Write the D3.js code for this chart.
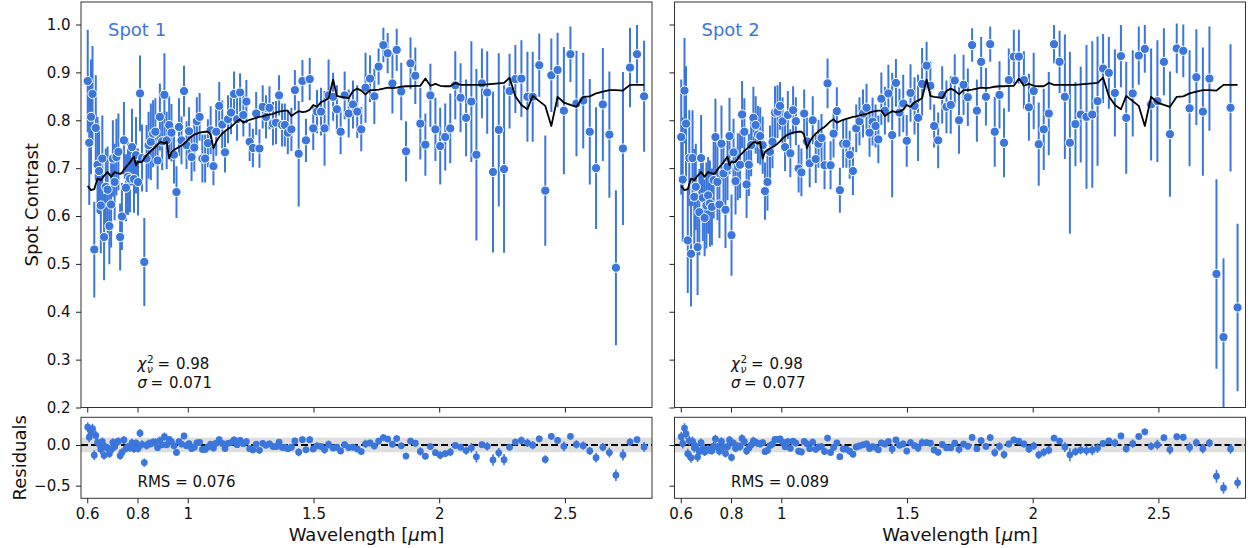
<!DOCTYPE html>
<html>
<head>
<meta charset="utf-8">
<script src="https://cdn.jsdelivr.net/npm/d3@7"></script>
<style>
  body { margin: 0; background: #fff; }
  svg text { font-family: "DejaVu Sans", sans-serif; fill: #111; }
</style>
</head>
<body>
<div id="chart"></div>
<script>
// Wavelength grid shared by both spots (micron)
const wavelength = [
  0.602,0.608,0.615,0.621,0.628,0.634,0.641,0.647,0.654,0.660,
  0.667,0.674,0.681,0.688,0.695,0.702,0.709,0.716,0.724,0.731,
  0.738,0.746,0.754,0.762,0.770,0.778,0.786,0.794,0.802,0.810,
  0.818,0.827,0.836,0.844,0.853,0.862,0.871,0.880,0.889,0.898,
  0.907,0.916,0.926,0.935,0.945,0.955,0.965,0.975,0.985,0.995,
  1.005,1.015,1.026,1.036,1.047,1.058,1.069,1.080,1.091,1.102,
  1.113,1.125,1.137,1.148,1.160,1.172,1.184,1.196,1.208,1.221,
  1.233,1.246,1.259,1.272,1.285,1.298,1.311,1.325,
  1.339,1.351,1.363,1.375,1.386,1.398,1.412,1.426,1.441,1.456,
  1.470,1.485,1.499,1.514,1.530,1.544,1.560,1.578,1.593,1.608,
  1.624,1.640,1.657,1.674,1.690,1.707,1.725,1.742,1.759,1.778,
  1.795,1.814,1.831,1.849,1.868,1.886,1.905,1.925,1.945,1.965,
  1.985,2.004,2.024,2.044,2.064,2.085,
  2.107,2.128,2.148,2.170,2.191,2.214,2.237,2.258,2.280,2.303,
  2.327,2.351,2.372,2.398,2.422,2.446,2.471,2.496,2.522,2.546,
  2.573,2.599,2.624,2.651,2.677,2.703,2.731,2.759,2.787,2.815
];

// Spot 1 contrast and 1-sigma errors
const contrast1 = [
  0.882,0.753,0.807,0.855,0.530,0.784,0.707,0.694,0.622,0.720,
  0.556,0.661,0.655,0.579,0.624,0.720,0.671,0.723,0.734,0.556,
  0.599,0.758,0.659,0.682,0.678,0.744,0.677,0.727,0.671,0.856,
  0.721,0.504,0.720,0.748,0.755,0.772,0.776,0.716,0.807,0.756,
  0.853,0.758,0.790,0.774,0.728,0.650,0.786,0.758,0.861,0.748,
  0.777,0.723,0.743,0.798,0.807,0.720,0.720,0.752,0.779,0.704,
  0.776,0.830,0.791,0.733,0.802,0.816,0.855,0.802,0.858,0.811,
  0.839,0.755,0.742,0.814,0.741,0.828,0.807,0.826,
  0.793,0.795,0.852,0.790,0.790,0.774,0.781,0.863,0.730,0.882,
  0.758,0.886,0.783,0.818,0.818,0.783,0.852,0.849,0.823,0.776,
  0.852,0.814,0.833,0.818,0.781,0.868,0.887,0.850,0.912,0.957,
  0.940,0.877,0.947,0.860,0.735,0.919,0.893,0.793,0.749,0.852,
  0.781,0.746,0.765,0.783,0.873,0.847,
  0.805,0.839,0.728,0.877,0.858,0.692,0.780,0.698,0.861,0.886,
  0.887,0.849,0.849,0.915,0.653,0.894,0.905,0.820,0.938,0.835,
  0.841,0.776,0.700,0.833,0.770,0.492,0.741,0.910,0.938,0.850
];
const err1 = [
  0.107,0.13,0.12,0.10,0.10,0.11,0.10,0.09,0.10,0.09,
  0.09,0.08,0.09,0.08,0.09,0.08,0.08,0.08,0.08,0.07,
  0.07,0.08,0.07,0.08,0.07,0.08,0.07,0.08,0.07,0.079,
  0.07,0.092,0.07,0.07,0.08,0.07,0.07,0.06,0.07,0.06,
  0.087,0.06,0.06,0.06,0.06,0.054,0.06,0.05,0.053,0.05,
  0.05,0.05,0.05,0.05,0.05,0.05,0.05,0.05,0.05,0.04,
  0.05,0.05,0.05,0.042,0.05,0.045,0.047,0.045,0.04,0.045,
  0.045,0.04,0.04,0.045,0.04,0.045,0.045,0.045,
  0.045,0.045,0.042,0.045,0.045,0.045,0.045,0.042,0.11,0.044,
  0.045,0.044,0.045,0.045,0.05,0.078,0.075,0.05,0.05,0.047,
  0.05,0.05,0.05,0.055,0.046,0.073,0.049,0.058,0.038,0.036,
  0.042,0.063,0.044,0.06,0.063,0.054,0.059,0.075,0.065,0.066,
  0.066,0.08,0.07,0.073,0.071,0.072,
  0.08,0.126,0.179,0.073,0.086,0.168,0.16,0.175,0.078,0.071,
  0.08,0.094,0.094,0.066,0.115,0.077,0.078,0.133,0.058,0.11,
  0.10,0.11,0.127,0.118,0.132,0.162,0.16,0.083,0.061,0.116
];

// Spot 2 contrast and 1-sigma errors
const contrast2 = [
  0.765,0.676,0.862,0.793,0.549,0.721,0.521,0.721,0.640,0.661,
  0.535,0.608,0.721,0.638,0.596,0.622,0.643,0.626,0.619,0.675,
  0.765,0.671,0.624,0.751,0.689,0.613,0.703,0.767,0.560,0.733,
  0.673,0.703,0.707,0.812,0.776,0.666,0.707,0.748,0.805,0.790,
  0.770,0.767,0.748,0.652,0.671,0.734,0.755,0.816,0.818,0.830,
  0.798,0.744,0.811,0.731,0.821,0.798,0.699,0.691,0.814,0.756,
  0.710,0.800,0.719,0.751,0.763,0.706,0.877,0.706,0.772,0.819,
  0.654,0.751,0.751,0.728,0.694,0.783,0.798,0.814,
  0.826,0.774,0.797,0.788,0.760,0.845,0.820,0.856,0.769,0.878,
  0.816,0.835,0.757,0.857,0.830,0.805,0.876,0.914,0.872,0.788,
  0.758,0.853,0.828,0.832,0.883,0.800,0.874,0.848,0.957,0.820,
  0.922,0.849,0.959,0.776,0.853,0.753,0.884,0.933,0.933,0.884,
  0.827,0.861,0.750,0.781,0.814,0.959,
  0.922,0.849,0.753,0.792,0.812,0.807,0.812,0.840,0.908,0.899,
  0.857,0.934,0.805,0.856,0.935,0.949,0.833,0.840,0.922,0.771,
  0.950,0.945,0.825,0.890,0.818,0.887,0.479,0.347,0.826,0.409
];
const err2 = [
  0.12,0.13,0.11,0.12,0.11,0.10,0.11,0.10,0.10,0.09,
  0.10,0.09,0.09,0.09,0.08,0.09,0.08,0.09,0.08,0.08,
  0.08,0.08,0.07,0.08,0.07,0.08,0.07,0.08,0.085,0.07,
  0.07,0.07,0.07,0.07,0.07,0.07,0.065,0.065,0.065,0.06,
  0.06,0.06,0.06,0.06,0.06,0.055,0.055,0.055,0.055,0.05,
  0.05,0.05,0.05,0.05,0.05,0.05,0.05,0.05,0.05,0.05,
  0.05,0.05,0.05,0.05,0.05,0.05,0.052,0.05,0.05,0.05,
  0.047,0.05,0.05,0.05,0.05,0.05,0.05,0.05,
  0.05,0.05,0.05,0.045,0.05,0.055,0.05,0.06,0.13,0.05,
  0.05,0.06,0.054,0.06,0.06,0.09,0.075,0.05,0.05,0.045,
  0.058,0.06,0.055,0.06,0.055,0.07,0.063,0.06,0.035,0.065,
  0.052,0.06,0.037,0.073,0.07,0.072,0.066,0.056,0.056,0.06,
  0.07,0.08,0.087,0.085,0.087,0.04,
  0.065,0.13,0.19,0.088,0.10,0.15,0.153,0.135,0.072,0.075,
  0.091,0.065,0.117,0.09,0.061,0.05,0.117,0.127,0.07,0.131,
  0.052,0.055,0.121,0.10,0.134,0.109,0.198,0.165,0.133,0.175
];

// Best-fit model contrast (same for both spots)
const model = [
  0.663,0.658,0.654,0.655,0.656,0.667,0.678,0.677,0.675,0.679,
  0.684,0.688,0.692,0.687,0.682,0.687,0.692,0.690,0.689,0.688,
  0.690,0.697,0.702,0.707,0.712,0.718,0.724,0.706,0.714,0.712,
  0.713,0.720,0.727,0.731,0.736,0.740,0.744,0.749,0.754,0.754,
  0.751,0.755,0.720,0.734,0.738,0.741,0.744,0.747,0.751,0.756,
  0.762,0.766,0.770,0.772,0.774,0.775,0.776,0.776,0.770,0.742,
  0.755,0.765,0.772,0.777,0.782,0.786,0.792,0.798,0.802,0.795,
  0.798,0.801,0.803,0.805,0.807,0.808,0.810,0.812,
  0.813,0.816,0.818,0.819,0.820,0.820,0.809,0.814,0.819,0.817,
  0.818,0.822,0.832,0.828,0.838,0.841,0.846,0.885,0.851,0.849,
  0.848,0.846,0.861,0.866,0.862,0.854,0.863,0.863,0.864,0.866,
  0.868,0.867,0.868,0.870,0.871,0.871,0.872,0.872,0.887,0.872,
  0.876,0.872,0.871,0.871,0.878,0.874,
  0.874,0.874,0.874,0.874,0.875,0.876,0.877,0.878,0.889,0.850,
  0.832,0.823,0.851,0.840,0.830,0.788,0.849,0.837,0.832,0.828,
  0.849,0.850,0.856,0.860,0.863,0.863,0.862,0.874,0.874,0.874
];

// errors on the residuals
const resErr1 = [
  0.06,0.06,0.06,0.06,0.06,0.06,0.06,0.05,0.06,0.05,
  0.05,0.05,0.05,0.05,0.05,0.05,0.05,0.05,0.05,0.05,
  0.05,0.05,0.05,0.05,0.05,0.05,0.05,0.05,0.05,0.05,
  0.05,0.05,0.05,0.05,0.05,0.05,0.05,0.04,0.05,0.04,
  0.05,0.04,0.04,0.04,0.04,0.04,0.04,0.04,0.04,0.04,
  0.04,0.04,0.04,0.04,0.04,0.04,0.04,0.04,0.04,0.04,
  0.04,0.04,0.04,0.04,0.04,0.04,0.04,0.04,0.04,0.04,
  0.04,0.04,0.04,0.04,0.04,0.04,0.04,0.04,
  0.04,0.04,0.04,0.04,0.04,0.04,0.04,0.04,0.05,0.04,
  0.04,0.04,0.04,0.04,0.04,0.05,0.05,0.04,0.04,0.04,
  0.04,0.04,0.04,0.04,0.04,0.05,0.04,0.04,0.04,0.04,
  0.04,0.04,0.04,0.04,0.04,0.04,0.04,0.05,0.04,0.04,
  0.04,0.05,0.04,0.05,0.04,0.04,
  0.05,0.06,0.07,0.04,0.05,0.07,0.06,0.07,0.04,0.04,
  0.05,0.05,0.05,0.04,0.05,0.04,0.04,0.06,0.04,0.05,
  0.05,0.05,0.06,0.05,0.06,0.07,0.07,0.05,0.04,0.06
];
const resErr2 = [
  0.06,0.06,0.06,0.06,0.06,0.06,0.06,0.06,0.06,0.05,
  0.06,0.05,0.05,0.05,0.05,0.05,0.05,0.05,0.05,0.05,
  0.05,0.05,0.05,0.05,0.05,0.05,0.05,0.05,0.05,0.05,
  0.05,0.05,0.05,0.05,0.05,0.05,0.05,0.05,0.05,0.04,
  0.04,0.04,0.04,0.04,0.04,0.04,0.04,0.04,0.04,0.04,
  0.04,0.04,0.04,0.04,0.04,0.04,0.04,0.04,0.04,0.04,
  0.04,0.04,0.04,0.04,0.04,0.04,0.04,0.04,0.04,0.04,
  0.04,0.04,0.04,0.04,0.04,0.04,0.04,0.04,
  0.04,0.04,0.04,0.04,0.04,0.04,0.04,0.04,0.06,0.04,
  0.04,0.04,0.04,0.04,0.04,0.05,0.05,0.04,0.04,0.04,
  0.04,0.04,0.04,0.04,0.04,0.05,0.04,0.04,0.04,0.04,
  0.04,0.04,0.04,0.05,0.05,0.05,0.04,0.04,0.04,0.04,
  0.05,0.05,0.05,0.05,0.05,0.04,
  0.04,0.06,0.08,0.05,0.05,0.06,0.06,0.06,0.04,0.04,
  0.05,0.04,0.05,0.05,0.04,0.04,0.05,0.06,0.04,0.06,
  0.04,0.04,0.06,0.05,0.06,0.05,0.08,0.07,0.06,0.07
];

const spotNames = ["Spot 1", "Spot 2"];
const chi2 = ["0.98", "0.98"];
const sigma = ["0.071", "0.077"];
const rms = ["0.076", "0.089"];
const bandHalfWidth = [0.09, 0.09];

const xTicks = [0.6, 0.8, 1, 1.5, 2, 2.5];
const yTicks = [0.2, 0.3, 0.4, 0.5, 0.6, 0.7, 0.8, 0.9, 1.0];
const resTicks = [-0.5, 0.0];

// ---- layout ----
const width = 1248, height = 548;
const blue = "#3b76dc";
const panelWidth = 571;
const panelLefts = [81, 674.5];
const xDomain = [0.5752, 2.8465];

const svg = d3.select("#chart").append("svg")
  .attr("width", width)
  .attr("height", height);

const y = d3.scaleLinear().domain([0.2, 1.047]).range([407.5, 2]);
const yRes = d3.scaleLinear().domain([-0.655, 0.34]).range([498.3, 417.3]);

const spots = [
  { contrast: contrast1, err: err1, resErr: resErr1 },
  { contrast: contrast2, err: err2, resErr: resErr2 }
];

function styleAxis(g) {
  g.select(".domain").remove();
  g.selectAll(".tick line").attr("stroke", "#222").attr("stroke-width", 1);
  g.selectAll(".tick text")
    .attr("font-family", "DejaVu Sans, sans-serif")
    .attr("font-size", 15)
    .attr("fill", "#111");
}

spots.forEach((s, i) => {
  const left = panelLefts[i];
  const x = d3.scaleLinear().domain(xDomain).range([left, left + panelWidth]);
  const pts = wavelength.map((w, j) => ({
    w, v: s.contrast[j], e: s.err[j], m: model[j],
    r: s.contrast[j] - model[j], re: s.resErr[j]
  }));

  // clip regions
  const defs = svg.append("defs");
  defs.append("clipPath").attr("id", "clipTop" + i)
    .append("rect").attr("x", left).attr("y", y(1.047))
    .attr("width", panelWidth).attr("height", y(0.2) - y(1.047));
  defs.append("clipPath").attr("id", "clipRes" + i)
    .append("rect").attr("x", left).attr("y", yRes(0.34))
    .attr("width", panelWidth).attr("height", yRes(-0.655) - yRes(0.34));

  // ---------- top panel ----------
  const top = svg.append("g").attr("clip-path", `url(#clipTop${i})`);
  top.append("g").selectAll("line")
    .data(pts)
    .join("line")
    .attr("x1", d => x(d.w)).attr("x2", d => x(d.w))
    .attr("y1", d => y(d.v - d.e)).attr("y2", d => y(d.v + d.e))
    .attr("stroke", blue).attr("stroke-width", 2);
  top.append("g").selectAll("circle")
    .data(pts)
    .join("circle")
    .attr("cx", d => x(d.w)).attr("cy", d => y(d.v))
    .attr("r", 4.6)
    .attr("fill", blue).attr("stroke", "#fff").attr("stroke-width", 1);
  top.append("path")
    .datum(pts)
    .attr("fill", "none").attr("stroke", "#000").attr("stroke-width", 1.8)
    .attr("stroke-linejoin", "round")
    .attr("d", d3.line().x(d => x(d.w)).y(d => y(d.m)));

  svg.append("rect")
    .attr("x", left).attr("y", y(1.047))
    .attr("width", panelWidth).attr("height", y(0.2) - y(1.047))
    .attr("fill", "none").attr("stroke", "#333").attr("stroke-width", 1);

  svg.append("g").attr("transform", `translate(0,${y(0.2)})`)
    .call(d3.axisBottom(x).tickValues(xTicks).tickFormat("").tickSize(5).tickSizeOuter(0))
    .call(styleAxis);
  svg.append("g").attr("transform", `translate(${left},0)`)
    .call(d3.axisLeft(y).tickValues(yTicks)
      .tickFormat(i === 0 ? d3.format(".1f") : "")
      .tickSize(5).tickPadding(5.5).tickSizeOuter(0))
    .call(styleAxis);

  svg.append("text")
    .attr("x", left + 27).attr("y", 36)
    .attr("font-size", 18).style("fill", blue)
    .text(spotNames[i]);

  // fit statistics
  const tx = left + 56.5;
  const st = svg.append("g").attr("font-size", 15);
  st.append("text").attr("x", tx).attr("y", 369).attr("font-style", "italic").text("χ");
  st.append("text").attr("x", tx + 9.5).attr("y", 362.5).attr("font-size", 10.5).text("2");
  st.append("text").attr("x", tx + 9.5).attr("y", 373).attr("font-size", 10.5).attr("font-style", "italic").text("ν");
  st.append("text").attr("x", tx + 20).attr("y", 369).text("=");
  st.append("text").attr("x", tx + 38.5).attr("y", 369).text(chi2[i]);
  st.append("text").attr("x", tx).attr("y", 388).attr("font-style", "italic").text("σ");
  st.append("text").attr("x", tx + 13).attr("y", 388).text("=");
  st.append("text").attr("x", tx + 31.5).attr("y", 388).text(sigma[i]);

  // ---------- residual panel ----------
  const res = svg.append("g").attr("clip-path", `url(#clipRes${i})`);
  res.append("rect")
    .attr("x", left).attr("width", panelWidth)
    .attr("y", yRes(bandHalfWidth[i]))
    .attr("height", yRes(-bandHalfWidth[i]) - yRes(bandHalfWidth[i]))
    .attr("fill", "#dedede");
  res.append("line")
    .attr("x1", left).attr("x2", left + panelWidth)
    .attr("y1", yRes(0)).attr("y2", yRes(0))
    .attr("stroke", "#000").attr("stroke-width", 1.8)
    .attr("stroke-dasharray", "7,3");
  res.append("g").selectAll("line")
    .data(pts)
    .join("line")
    .attr("x1", d => x(d.w)).attr("x2", d => x(d.w))
    .attr("y1", d => yRes(d.r - d.re)).attr("y2", d => yRes(d.r + d.re))
    .attr("stroke", blue).attr("stroke-width", 1.6);
  res.append("g").selectAll("circle")
    .data(pts)
    .join("circle")
    .attr("cx", d => x(d.w)).attr("cy", d => yRes(d.r))
    .attr("r", 3.4)
    .attr("fill", blue);

  svg.append("rect")
    .attr("x", left).attr("y", yRes(0.34))
    .attr("width", panelWidth).attr("height", yRes(-0.655) - yRes(0.34))
    .attr("fill", "none").attr("stroke", "#333").attr("stroke-width", 1);

  svg.append("g").attr("transform", `translate(0,${yRes(-0.655)})`)
    .call(d3.axisBottom(x).tickValues(xTicks).tickFormat(d => String(d))
      .tickSize(5).tickPadding(5.5).tickSizeOuter(0))
    .call(styleAxis);
  svg.append("g").attr("transform", `translate(${left},0)`)
    .call(d3.axisLeft(yRes).tickValues(resTicks)
      .tickFormat(i === 0 ? d3.format(".1f") : "")
      .tickSize(5).tickPadding(5.5).tickSizeOuter(0))
    .call(styleAxis);

  svg.append("text")
    .attr("x", tx).attr("y", 487)
    .attr("font-size", 15)
    .text(`RMS = ${rms[i]}`);

  const xl = svg.append("text")
    .attr("x", left + panelWidth / 2).attr("y", 541)
    .attr("text-anchor", "middle").attr("font-size", 18);
  xl.append("tspan").text("Wavelength [");
  xl.append("tspan").attr("font-style", "italic").text("μ");
  xl.append("tspan").text("m]");
});

svg.append("text")
  .attr("transform", `translate(38,${(y(1.047) + y(0.2)) / 2}) rotate(-90)`)
  .attr("text-anchor", "middle").attr("font-size", 18)
  .text("Spot Contrast");
svg.append("text")
  .attr("transform", `translate(26,${(yRes(0.34) + yRes(-0.655)) / 2}) rotate(-90)`)
  .attr("text-anchor", "middle").attr("font-size", 18)
  .text("Residuals");
</script>
</body>
</html>
